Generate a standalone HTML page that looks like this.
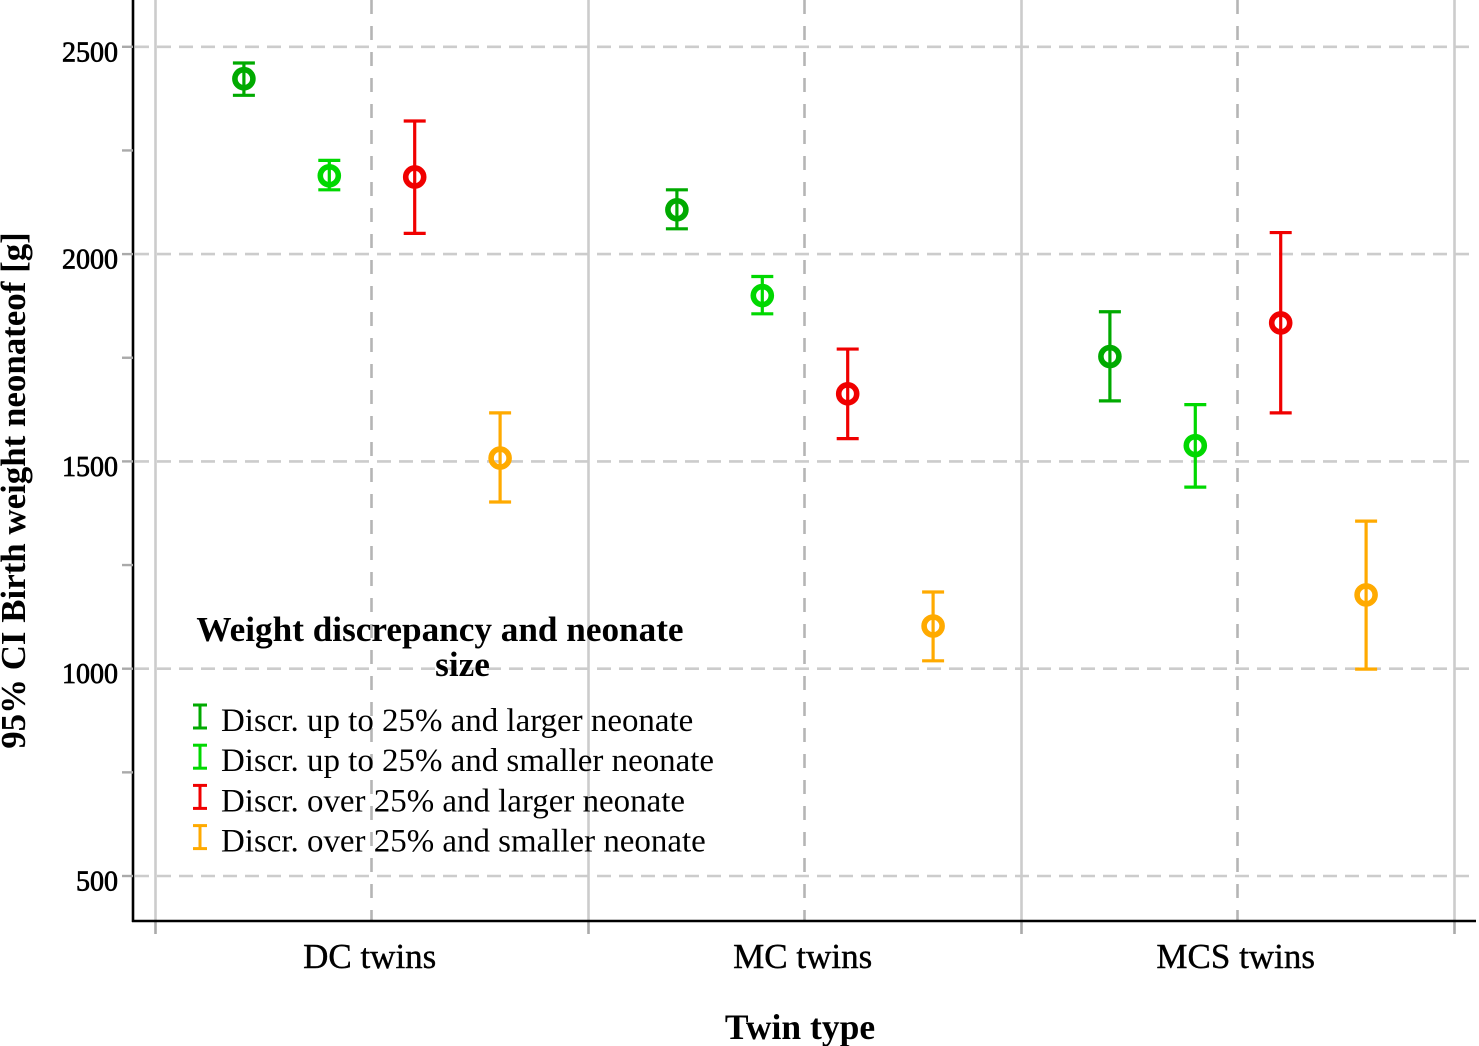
<!DOCTYPE html>
<html lang="en">
<head>
<meta charset="utf-8">
<title>Birth weight by twin type</title>
<style>
html,body{margin:0;padding:0;background:#fff;}
svg{display:block;}
text{font-family:"Liberation Serif",serif;fill:#000;}
</style>
</head>
<body>
<svg id="chart" xmlns="http://www.w3.org/2000/svg" width="1479" height="1046" viewBox="0 0 1479 1046"></svg>
<script>
const categories = ["DC twins", "MC twins", "MCS twins"];
const seriesNames = [
  "Discr. up to 25% and larger neonate",
  "Discr. up to 25% and smaller neonate",
  "Discr. over 25% and larger neonate",
  "Discr. over 25% and smaller neonate"
];
const seriesColors = ["#00aa00", "#00d800", "#f00000", "#ffaa00"];
const meanValues = [
  [2423, 2107, 1753],
  [2189, 1900, 1538],
  [2186, 1663, 1834],
  [1508, 1103, 1178]
];
const upperValues = [
  [2461, 2155, 1861],
  [2226, 1946, 1637],
  [2321, 1771, 2052],
  [1617, 1185, 1356]
];
const lowerValues = [
  [2383, 2061, 1646],
  [2155, 1856, 1438],
  [2050, 1555, 1617],
  [1402, 1019, 999]
];
const yMajorTicks = [500, 1000, 1500, 2000, 2500];
const yMinorTicks = [750, 1250, 1750, 2250];
const legendTitle = ["Weight discrepancy and neonate", "size"];
const xAxisTitle = "Twin type";
const yAxisTitle = "95% CI Birth weight neonateof [g]";

const svg = document.getElementById("chart");
const NS = "http://www.w3.org/2000/svg";
const yScale = v => 876 - (v - 500) * 0.4146;
const bandWidth = 433;
const bandStart = 155.5;
const xBandEdge = i => bandStart + i * bandWidth;
const xScale = (cat, s) => xBandEdge(cat) + bandWidth / 2 + (s - 1.5) * 85.4;

function make(tag, attrs, text) {
  const el = document.createElementNS(NS, tag);
  for (const k in attrs) el.setAttribute(k, attrs[k]);
  if (text !== undefined) el.textContent = text;
  svg.appendChild(el);
  return el;
}

/* Horizontal dashed grid */
yMajorTicks.forEach(t => {
  const g = make("line", {x1: 135, x2: 1476, y1: yScale(t), y2: yScale(t), stroke: "#cccccc", "stroke-width": 2.6, "stroke-dasharray": "14 8"});
  
  
});

/* Solid vertical band separators and their ticks */
for (let i = 0; i <= categories.length; i++) {
  const x = xBandEdge(i);
  const g = make("line", {x1: x, x2: x, y1: 0, y2: 921, stroke: "#cccccc", "stroke-width": 2.6});
  
  
  const t = make("line", {x1: x, x2: x, y1: 921, y2: 934, stroke: "#aaaaaa", "stroke-width": 2.6});
  
  
}

/* Dashed vertical category lines */
categories.forEach((c, i) => {
  const x = xBandEdge(i) + bandWidth / 2;
  const g = make("line", {x1: x - 0.5, x2: x - 0.5, y1: 0, y2: 921, stroke: "#b5b5b5", "stroke-width": 2.6, "stroke-dasharray": "14 12"});
  
  
});

/* Axes */
const yAxis = make("line", {x1: 133, x2: 133, y1: 0, y2: 922, stroke: "#000", "stroke-width": 2.6});


const xAxis = make("line", {x1: 132, x2: 1476, y1: 921, y2: 921, stroke: "#000", "stroke-width": 2.6});



/* Y ticks */
yMajorTicks.forEach(t => {
  const m = make("line", {x1: 122, x2: 133, y1: yScale(t), y2: yScale(t), stroke: "#aaaaaa", "stroke-width": 2.4});
  
  
  const l = make("text", {x: 118, y: yScale(t) + 14.5, "text-anchor": "end", "font-size": 28, stroke: "#000", "stroke-width": 0.7}, String(t));
  
  
});
yMinorTicks.forEach(t => {
  const m = make("line", {x1: 122, x2: 133, y1: yScale(t), y2: yScale(t), stroke: "#aaaaaa", "stroke-width": 2.4});
  
  
});

/* X labels */
categories.forEach((c, i) => {
  const l = make("text", {x: xBandEdge(i) + bandWidth / 2 - 2.3, y: 968, "text-anchor": "middle", "font-size": 35, stroke: "#000", "stroke-width": 0.4}, c);
  
  
});

/* Axis titles */
const xt = make("text", {x: 800, y: 1039, "text-anchor": "middle", "font-size": 35.5, "font-weight": "bold"}, xAxisTitle);


const yt = make("text", {x: 0, y: 0, transform: "translate(25 490.5) rotate(-90)", "text-anchor": "middle", "font-size": 34.9, "font-weight": "bold"}, yAxisTitle);



/* Error bars and points */
seriesNames.forEach((name, s) => {
  const color = seriesColors[s];
  categories.forEach((c, i) => {
    const x = xScale(i, s);
    const yU = yScale(upperValues[s][i]);
    const yL = yScale(lowerValues[s][i]);
    const yM = yScale(meanValues[s][i]);
    const stem = make("line", {x1: x, x2: x, y1: yU, y2: yL, stroke: color, "stroke-width": 3.2});
    
    
    const capU = make("line", {x1: x - 11, x2: x + 11, y1: yU, y2: yU, stroke: color, "stroke-width": 3.2});
    
    
    const capL = make("line", {x1: x - 11, x2: x + 11, y1: yL, y2: yL, stroke: color, "stroke-width": 3.2});
    
    
    const pt = make("circle", {cx: x, cy: yM, r: 9, fill: "none", stroke: color, "stroke-width": 5.6});
    
    
  });
});

/* Legend */
const lt1 = make("text", {x: 440, y: 641, "text-anchor": "middle", "font-size": 35.2, "font-weight": "bold"}, legendTitle[0]);


const lt2 = make("text", {x: 462.5, y: 676, "text-anchor": "middle", "font-size": 35.2, "font-weight": "bold"}, legendTitle[1]);



seriesNames.forEach((name, s) => {
  const top = 705 + s * 40.2;
  const color = seriesColors[s];
  const k1 = make("line", {x1: 200, x2: 200, y1: top, y2: top + 23, stroke: color, "stroke-width": 3});
  
  
  const k2 = make("line", {x1: 193, x2: 207, y1: top, y2: top, stroke: color, "stroke-width": 3});
  
  
  const k3 = make("line", {x1: 193, x2: 207, y1: top + 23, y2: top + 23, stroke: color, "stroke-width": 3});
  
  
  const t = make("text", {x: 221, y: 731 + s * 40.2, "font-size": 32.95}, name);
  
  
});
</script>
</body>
</html>
